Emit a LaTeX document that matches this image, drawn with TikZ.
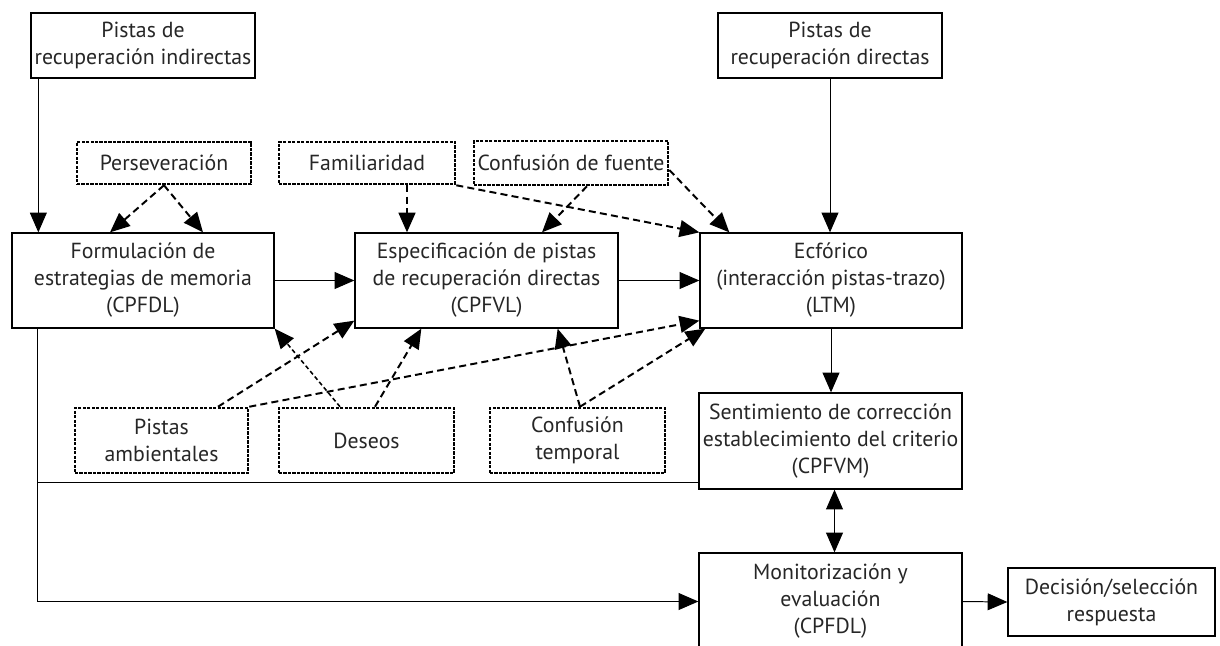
\documentclass[tikz,border=0pt]{standalone}
\usepackage{fontspec}
\setmainfont{PT Sans}
\usetikzlibrary{arrows.meta,calc}

\begin{document}
\begin{tikzpicture}[x=0.025cm,y=-0.025cm]
        %
        % `box' is used for the process boxes, `factor' for the dotted ones.
        % `arr' is a plain arrow, `darr' a dashed one.
        \tikzstyle{box} = [draw,line width=0.9pt,align=center,text=black!85,inner sep=2pt,
                font=\fontsize{15.5pt}{19.2pt}\selectfont,minimum width=6.55cm,minimum height=2.375cm]
        \tikzstyle{factor} = [box,line width=1.8pt,dash pattern=on 2.2pt off 1pt,
                minimum width=4.375cm,minimum height=1.625cm]
        \tikzstyle{arr} = [-{Triangle[length=14pt,width=12pt]},line width=0.7pt]
        \tikzstyle{darr} = [arr,line width=1.4pt,dash pattern=on 5pt off 3pt]
        %
        \useasboundingbox (0,0) rectangle (1220,645);
        %
        % Cues
        \node[box,minimum width=5.6cm,minimum height=1.625cm] (ind) at (143,45.5) {Pistas de\\recuperación indirectas};
        \node[box,minimum width=5.6cm,minimum height=1.625cm] (dir) at (830,45.5) {Pistas de\\recuperación directas};
        %
        % Upper factors
        \node[factor,minimum width=4.35cm,minimum height=1.05cm] (pers) at (164,163) {Perseveración};
        \node[factor,minimum width=4.4cm,minimum height=1.05cm] (fam) at (367,163) {Familiaridad};
        \node[factor,minimum width=4.85cm,minimum height=1.1cm] (fte) at (571,163) {Confusión de fuente};
        %
        % Main row
        \node[box] (form) at (143,280.5) {Formulación de\\estrategias de memoria\\(CPFDL)};
        \node[box,minimum width=6.575cm] (espec) at (486.5,280.5) {Especificación de pistas\\de recuperación directas\\(CPFVL)};
        \node[box] (ecf) at (831,280.5) {Ecfórico\\(interacción pistas-trazo)\\(LTM)};
        %
        % Lower factors
        \node[factor,minimum width=4.325cm] (amb) at (161.5,440.5) {Pistas\\ambientales};
        \node[factor] (des) at (366.5,440.5) {Deseos};
        \node[factor] (temp) at (577.5,440.5) {Confusión\\temporal};
        %
        % Right column
        \node[box,minimum width=6.575cm,minimum height=2.4cm] (sent) at (830.5,441) {Sentimiento de corrección\\establecimiento del criterio\\(CPFVM)};
        \node[box,minimum width=6.575cm,minimum height=2.425cm] (mon) at (830.5,601.5) {Monitorización y\\evaluación\\(CPFDL)};
        \node[box,minimum width=5.175cm,minimum height=1.7cm] (dec) at (1111.5,602) {Decisión/selección\\respuesta};
        %
        % Solid arrows
        \draw[arr] ($(ind.south west)+(8,0)$) coordinate (a1) -- (a1 |- form.north);
        \draw[arr] (dir.south) -- (dir.south |- ecf.north);
        \draw[arr] (form.east) -- (espec.west);
        \draw[arr] (espec.east) -- (ecf.west);
        \draw[arr] (ecf.south) -- (ecf.south |- sent.north);
        \draw[arr,{Triangle[length=14pt,width=12pt]}-{Triangle[length=14pt,width=12pt]}] ($(sent.south)+(4,0)$) coordinate (a2) -- (a2 |- mon.north);
        \draw[arr] (mon.east) -- (dec.west);
        \draw[arr] ($(form.south west)+(26,0)$) coordinate (a3) |- (mon.west);
        \draw[line width=0.7pt] ($(sent.south west)+(0,-7)$) coordinate (a4) -- (a4 -| a3);
        %
        % Dashed arrows, upper factors
        \draw[darr] (pers.south) -- ($(form.north)+(-33,0)$);
        \draw[darr] (pers.south) -- ($(form.north)+(60,0)$);
        \draw[darr] ($(fam.south)+(40,0)$) coordinate (b1) -- (b1 |- espec.north);
        \draw[darr] (fam.south east) -- (ecf.north west);
        \draw[darr] ($(fte.south)+(16,0)$) -- ($(espec.north)+(55.5,0)$);
        \draw[darr] ($(fte.east)+(0,7)$) -- ($(ecf.north west)+(30,0)$);
        %
        % Dashed arrows, lower factors
        \draw[darr] ($(amb.north)+(56.5,0)$) -- ($(espec.south west)+(0,-8)$);
        \draw[darr] (amb.north east) -- ($(ecf.south west)+(0,-8)$);
        \draw[darr,line width=1.1pt,dash pattern=on 3pt off 2pt] ($(des.north)+(-26.5,0)$) -- (form.south east);
        \draw[darr] ($(des.north)+(8.5,0)$) -- ($(espec.south west)+(67,0)$);
        \draw[darr] ($(temp.north)+(2.5,0)$) -- ($(espec.south east)+(-61,0)$);
        \draw[darr] ($(temp.north)+(2.5,0)$) -- ($(ecf.south west)+(6,0)$);
        %
\end{tikzpicture}
\end{document}
